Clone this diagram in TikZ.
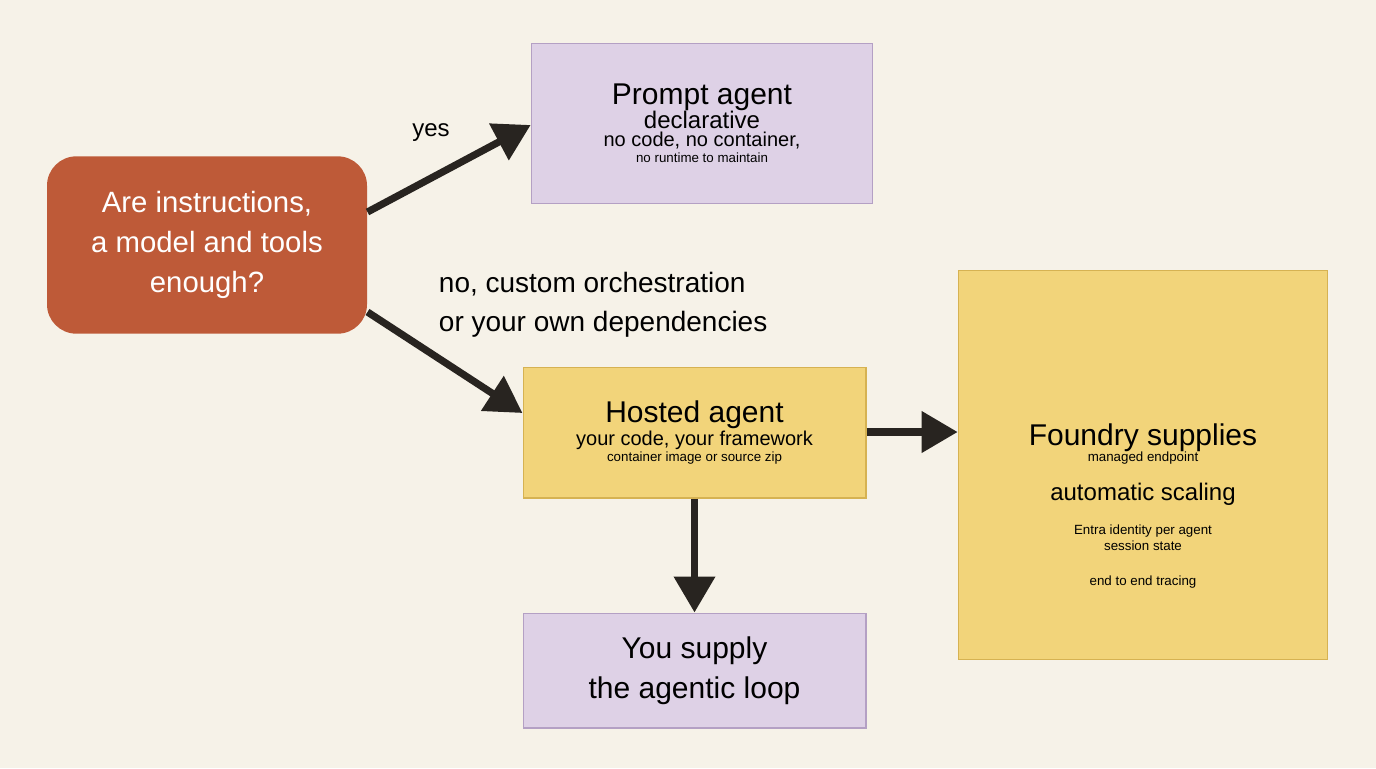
\documentclass[tikz,border=0pt]{standalone}
\usepackage{fontspec}
\setmainfont{Liberation Sans}
\usetikzlibrary{arrows.meta}
\definecolor{paper}{RGB}{246,242,232}
\definecolor{rust}{RGB}{190,90,56}
\definecolor{lilac}{RGB}{222,209,230}
\definecolor{lilacline}{RGB}{180,160,196}
\definecolor{gold}{RGB}{242,212,122}
\definecolor{goldline}{RGB}{214,178,82}
\definecolor{ink}{RGB}{40,36,32}
\newcommand{\fsz}[2]{\fontsize{#1}{#2}\selectfont}
\tikzset{every picture/.style={line width=0.75pt}}
\tikzset{
  lilacbox/.style={draw=lilacline,fill=lilac,line width=1pt,align=center,inner sep=0pt},
  goldbox/.style={draw=goldline,fill=gold,line width=1pt,align=center,inner sep=0pt},
  flow/.style={draw=ink,line width=5.4pt,-{Triangle[length=27pt,width=30pt]}},
}
\begin{document}
\begin{tikzpicture}[x=0.75pt,y=0.75pt,yscale=-1,xscale=1]
\fill[paper] (0,0) rectangle (1376,768);

% Decision
\node[fill=rust,rounded corners=22pt,minimum width=240pt,minimum height=133pt,align=center,text=white,font=\fsz{22}{30}] (ask) at (207,245) {Are instructions,\\a model and tools\\enough?};

% Prompt agent
\node[lilacbox,minimum width=256pt,minimum height=120pt] (prompt) at (702,123.5) {\fsz{22.5}{29}Prompt agent\\[-1pt]\fsz{18}{22}declarative\\[2pt]\fsz{15}{23}no code, no container,\\no runtime to maintain};

% Hosted agent
\node[goldbox,minimum width=257pt,minimum height=98pt] (hosted) at (694.5,432.5) {\fsz{22.5}{29}Hosted agent\\\fsz{15}{24}your code, your framework\\container image or source zip};

% You supply
\node[lilacbox,minimum width=257pt,minimum height=86pt,font=\fsz{22.5}{30}] (loop) at (694.5,670.5) {You supply\\the agentic loop};

% Foundry
\node[goldbox,minimum width=277pt,minimum height=292pt] (foundry) at (1143,465) {};
\node[align=center] (supplies) at (1143,506) {\fsz{22.5}{29}Foundry supplies\\managed endpoint\\[13pt]\fsz{18}{26}automatic scaling\\[14pt]Entra identity per agent\\session state\\[14pt]end to end tracing};

% Arrows
\draw[flow] (ask.east |- 0,212) -- (prompt.west |- 0,125);
\draw[flow] (ask.east |- 0,312) -- (hosted.west |- 0,413);
\draw[flow] (hosted.east |- 0,432) -- (foundry.west |- 0,432);
\draw[flow] (hosted.south) -- (loop.north);

% Labels
\node[font=\fsz{18}{22}] (yes) at (431,133) {yes};
\node[anchor=west,align=left,font=\fsz{21}{29}] (no) at (434,305) {no, custom orchestration\\or your own dependencies};
\end{tikzpicture}
\end{document}
